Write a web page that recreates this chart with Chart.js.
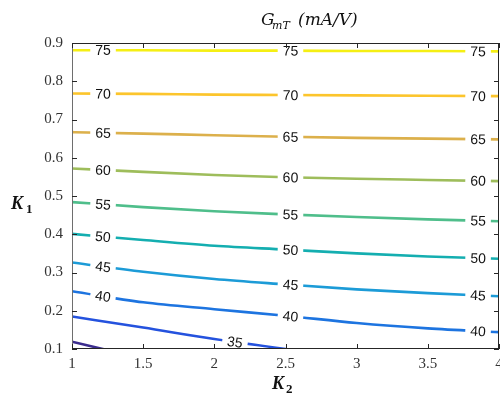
<!DOCTYPE html>
<html>
<head>
<meta charset="utf-8">
<script src="https://cdn.jsdelivr.net/npm/chart.js@4/dist/chart.umd.min.js"></script>
<style>
  html, body { margin: 0; padding: 0; background: #fff; }
  #wrap { width: 500px; height: 399px; position: relative; }
</style>
</head>
<body>
<div id="wrap"><canvas id="chart"></canvas></div>
<script>
// K2 sample points along every contour
const k2 = [1, 1.5, 2, 2.5, 3, 3.5, 4];
// K1 value of each contour line at the k2 points
const k1At30 = [0.119, 0.075, null, null, null, null, null];
const k1At35 = [0.185, 0.156, 0.126, 0.100, 0.076, null, null];
const k1At40 = [0.251, 0.222, 0.204, 0.187, 0.168, 0.154, 0.144];
const k1At45 = [0.326, 0.302, 0.283, 0.269, 0.256, 0.246, 0.238];
const k1At50 = [0.401, 0.385, 0.370, 0.360, 0.350, 0.342, 0.336];
const k1At55 = [0.484, 0.471, 0.460, 0.452, 0.445, 0.439, 0.434];
const k1At60 = [0.572, 0.563, 0.555, 0.549, 0.545, 0.542, 0.539];
const k1At65 = [0.667, 0.663, 0.659, 0.655, 0.652, 0.650, 0.648];
const k1At70 = [0.768, 0.767, 0.765, 0.764, 0.763, 0.762, 0.761];
const k1At75 = [0.881, 0.881, 0.880, 0.880, 0.879, 0.879, 0.878];

const levels = [30, 35, 40, 45, 50, 55, 60, 65, 70, 75];
const levelK1 = [k1At30, k1At35, k1At40, k1At45, k1At50, k1At55, k1At60, k1At65, k1At70, k1At75];
// where the in-line labels sit (K2)
const labelK2 = [1.218, 2.535, 3.853];
const labelK2For35 = [2.145];

const xTicks = [1, 1.5, 2, 2.5, 3, 3.5, 4];
const yTicks = [0.1, 0.2, 0.3, 0.4, 0.5, 0.6, 0.7, 0.8, 0.9];

const colors = ['#3b2c8e', '#2452de', '#1d74e0', '#1c9bd7', '#14aeb0',
                '#4fbe8b', '#9ebd5b', '#dcb04b', '#fcc52c', '#f5ef14'];

function labelPositions(level) {
  if (level === 30) return [];
  if (level === 35) return labelK2For35;
  return labelK2;
}

const datasets = levels.map(function (lv, i) {
  return {
    label: String(lv),
    data: k2.map(function (x, j) { return {x: x, y: levelK1[i][j]}; }).filter(function (p) { return p.y !== null; }),
    borderColor: colors[i],
    borderWidth: 2.6,
    pointRadius: 0,
    showLine: true,
    cubicInterpolationMode: 'monotone',
    clip: 0
  };
});

const contourLabels = {
  id: 'contourLabels',
  afterDatasetsDraw(chart) {
    const ctx = chart.ctx;
    const xs = chart.scales.x, ys = chart.scales.y;
    ctx.save();
    ctx.font = '14px "Liberation Sans", Arial, sans-serif';
    ctx.textAlign = 'center';
    ctx.textBaseline = 'middle';
    levels.forEach(function (lv, i) {
      const pts = datasets[i].data.map(function (p) {
        return {x: xs.getPixelForValue(p.x), y: ys.getPixelForValue(p.y)};
      });
      labelPositions(lv).forEach(function (lx) {
        const px = xs.getPixelForValue(lx);
        let k = 0;
        while (k < pts.length - 2 && pts[k + 1].x < px) k++;
        const a = pts[k], b = pts[k + 1];
        const t = (px - a.x) / (b.x - a.x);
        const py = a.y + t * (b.y - a.y);
        const ang = Math.atan2(b.y - a.y, b.x - a.x);
        const txt = String(lv);
        const w = ctx.measureText(txt).width;
        ctx.save();
        ctx.translate(px, py);
        ctx.rotate(ang);
        ctx.fillStyle = '#ffffff';
        ctx.fillRect(-w / 2 - 5, -5, w + 10, 10);
        ctx.fillStyle = '#111';
        ctx.fillText(txt, 0, 1);
        ctx.restore();
      });
    });
    ctx.restore();
  }
};

const frame = {
  id: 'frame',
  afterDraw(chart) {
    const ctx = chart.ctx;
    const a = chart.chartArea;
    const xs = chart.scales.x, ys = chart.scales.y;
    ctx.save();
    ctx.lineWidth = 1;
    ctx.strokeStyle = '#262626';
    ctx.beginPath();
    ctx.moveTo(a.left, a.top + 0.5); ctx.lineTo(a.right, a.top + 0.5);
    ctx.moveTo(a.right - 0.5, a.top); ctx.lineTo(a.right - 0.5, a.bottom);
    ctx.moveTo(a.left, a.bottom - 0.5); ctx.lineTo(a.right, a.bottom - 0.5);
    ctx.stroke();
    ctx.strokeStyle = '#6e6e6e';
    ctx.beginPath();
    ctx.moveTo(a.left + 0.5, a.top); ctx.lineTo(a.left + 0.5, a.bottom);
    ctx.stroke();
    ctx.strokeStyle = '#262626';
    ctx.beginPath();
    xTicks.forEach(function (v) {
      const x = Math.round(xs.getPixelForValue(v)) + 0.5;
      ctx.moveTo(x, a.bottom); ctx.lineTo(x, a.bottom - 5);
      ctx.moveTo(x, a.top); ctx.lineTo(x, a.top + 5);
    });
    yTicks.forEach(function (v) {
      const y = Math.round(ys.getPixelForValue(v)) + 0.5;
      ctx.moveTo(a.left, y); ctx.lineTo(a.left + 5, y);
      ctx.moveTo(a.right, y); ctx.lineTo(a.right - 5, y);
    });
    ctx.stroke();

    // title G_mT (mA/V)
    ctx.fillStyle = '#111';
    ctx.textBaseline = 'alphabetic';
    ctx.textAlign = 'left';
    ctx.font = 'italic 17px "DejaVu Serif", serif';
    ctx.fillText('G', 261, 25);
    ctx.font = 'italic 11px "DejaVu Serif", serif';
    ctx.fillText('mT', 272, 29);
    ctx.font = 'italic 17px "DejaVu Serif", serif';
    ctx.fillText('(mA/V)', 298, 25);

    // axis names K1, K2
    ctx.font = 'bold italic 18px "Liberation Serif", serif';
    ctx.fillText('K', 11, 209);
    ctx.fillText('K', 272, 389);
    ctx.font = 'bold 13px "Liberation Serif", serif';
    ctx.fillText('1', 26, 213);
    ctx.fillText('2', 286, 393);
    ctx.restore();
  }
};

const tickFont = {family: '"Liberation Serif", "Times New Roman", serif', size: 15};

new Chart(document.getElementById('chart'), {
  type: 'scatter',
  data: {datasets: datasets},
  options: {
    responsive: true,
    maintainAspectRatio: false,
    animation: false,
    layout: {padding: {top: 43, right: 1, left: 0, bottom: 0}},
    plugins: {legend: {display: false}, tooltip: {enabled: false}},
    scales: {
      x: {
        type: 'linear', min: 1, max: 4,
        afterBuildTicks: function (s) { s.ticks = xTicks.map(function (v) { return {value: v}; }); },
        afterFit: function (s) { s.height = 50; s.paddingLeft = 0; s.paddingRight = 0; },
        grid: {display: false, drawTicks: false},
        border: {display: false},
        ticks: {font: tickFont, color: '#333', padding: 6, maxRotation: 0,
                callback: function (v) { return String(Math.round(v * 10) / 10); }}
      },
      y: {
        type: 'linear', min: 0.1, max: 0.9,
        afterBuildTicks: function (s) { s.ticks = yTicks.map(function (v) { return {value: v}; }); },
        afterFit: function (s) { s.width = 72; s.paddingTop = 0; s.paddingBottom = 0; },
        grid: {display: false, drawTicks: false},
        border: {display: false},
        ticks: {font: tickFont, color: '#333', padding: 9,
                callback: function (v) { return v.toFixed(1); }}
      }
    }
  },
  plugins: [contourLabels, frame]
});
</script>
</body>
</html>
